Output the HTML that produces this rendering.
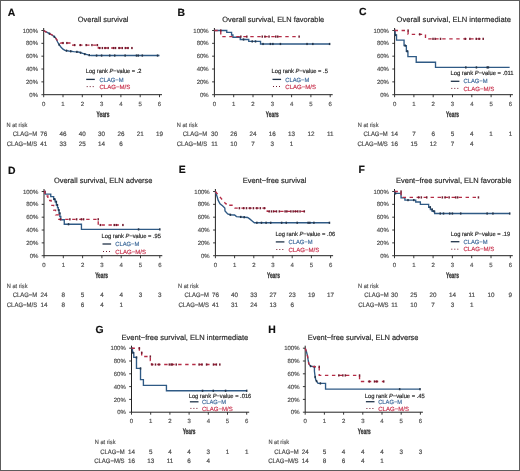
<!DOCTYPE html><html><head><meta charset="utf-8"><style>html,body{margin:0;padding:0;background:#fff}svg{display:block;will-change:transform}text{font-family:"Liberation Sans",sans-serif;text-rendering:geometricPrecision}</style></head><body>
<svg width="520" height="471" viewBox="0 0 520 471">
<rect x="0" y="0" width="520" height="471" fill="#fff"/>
<text x="7.80" y="15.60" font-size="10.4" text-anchor="start" fill="#111" font-weight="bold" stroke="#111" stroke-width="0.18">A</text>
<text x="77.80" y="22.20" font-size="7.6" text-anchor="start" fill="#2a2a2a" font-weight="normal" stroke="#2a2a2a" stroke-width="0.18" textLength="50.7" lengthAdjust="spacingAndGlyphs">Overall survival</text>
<path d="M43.70 28.00V94.70H162.00" fill="none" stroke="#222" stroke-width="1"/>
<path d="M41.40 94.70H43.70" stroke="#222" stroke-width="0.9"/>
<text x="38.00" y="96.85" font-size="6.0" text-anchor="end" fill="#555" font-weight="normal" stroke="#555" stroke-width="0.18">0%</text>
<path d="M41.40 81.86H43.70" stroke="#222" stroke-width="0.9"/>
<text x="38.00" y="84.01" font-size="6.0" text-anchor="end" fill="#555" font-weight="normal" stroke="#555" stroke-width="0.18">20%</text>
<path d="M41.40 69.02H43.70" stroke="#222" stroke-width="0.9"/>
<text x="38.00" y="71.17" font-size="6.0" text-anchor="end" fill="#555" font-weight="normal" stroke="#555" stroke-width="0.18">40%</text>
<path d="M41.40 56.18H43.70" stroke="#222" stroke-width="0.9"/>
<text x="38.00" y="58.33" font-size="6.0" text-anchor="end" fill="#555" font-weight="normal" stroke="#555" stroke-width="0.18">60%</text>
<path d="M41.40 43.34H43.70" stroke="#222" stroke-width="0.9"/>
<text x="38.00" y="45.49" font-size="6.0" text-anchor="end" fill="#555" font-weight="normal" stroke="#555" stroke-width="0.18">80%</text>
<path d="M41.40 30.50H43.70" stroke="#222" stroke-width="0.9"/>
<text x="38.00" y="32.65" font-size="6.0" text-anchor="end" fill="#555" font-weight="normal" stroke="#555" stroke-width="0.18">100%</text>
<path d="M43.70 94.70V97.20" stroke="#222" stroke-width="0.9"/>
<text x="43.70" y="105.90" font-size="6.0" text-anchor="middle" fill="#555" font-weight="normal" stroke="#555" stroke-width="0.18">0</text>
<path d="M63.00 94.70V97.20" stroke="#222" stroke-width="0.9"/>
<text x="63.00" y="105.90" font-size="6.0" text-anchor="middle" fill="#555" font-weight="normal" stroke="#555" stroke-width="0.18">1</text>
<path d="M82.30 94.70V97.20" stroke="#222" stroke-width="0.9"/>
<text x="82.30" y="105.90" font-size="6.0" text-anchor="middle" fill="#555" font-weight="normal" stroke="#555" stroke-width="0.18">2</text>
<path d="M101.60 94.70V97.20" stroke="#222" stroke-width="0.9"/>
<text x="101.60" y="105.90" font-size="6.0" text-anchor="middle" fill="#555" font-weight="normal" stroke="#555" stroke-width="0.18">3</text>
<path d="M120.90 94.70V97.20" stroke="#222" stroke-width="0.9"/>
<text x="120.90" y="105.90" font-size="6.0" text-anchor="middle" fill="#555" font-weight="normal" stroke="#555" stroke-width="0.18">4</text>
<path d="M140.20 94.70V97.20" stroke="#222" stroke-width="0.9"/>
<text x="140.20" y="105.90" font-size="6.0" text-anchor="middle" fill="#555" font-weight="normal" stroke="#555" stroke-width="0.18">5</text>
<path d="M159.50 94.70V97.20" stroke="#222" stroke-width="0.9"/>
<text x="159.50" y="105.90" font-size="6.0" text-anchor="middle" fill="#555" font-weight="normal" stroke="#555" stroke-width="0.18">6</text>
<text x="102.95" y="116.90" font-size="8.1" text-anchor="middle" fill="#333" font-weight="bold" stroke="#333" textLength="12.9" lengthAdjust="spacingAndGlyphs" stroke-width="0.3">Years</text>
<path d="M43.70 30.50 L45.24 31.46 L47.17 32.43 L49.49 33.71 L51.81 34.99 L53.74 36.28 L55.28 37.56 L56.44 39.49 L57.60 42.06 L59.14 44.62 L61.07 47.19 L63.00 49.12 L64.93 50.40 L68.79 51.04 L73.62 51.69 L78.44 52.01 L81.34 52.97 L84.23 53.93 L88.09 54.90 L90.99 55.54 L159.50 55.54" fill="none" stroke="#2f5a85" stroke-width="1.35"/>
<rect x="48.74" y="32.61" width="1.5" height="2.2" fill="#22344a"/>
<rect x="53.57" y="35.66" width="1.5" height="2.2" fill="#22344a"/>
<rect x="58.39" y="43.52" width="1.5" height="2.2" fill="#22344a"/>
<rect x="65.72" y="49.56" width="1.5" height="2.2" fill="#22344a"/>
<rect x="69.97" y="50.20" width="1.5" height="2.2" fill="#22344a"/>
<rect x="76.15" y="50.80" width="1.5" height="2.2" fill="#22344a"/>
<rect x="79.81" y="51.61" width="1.5" height="2.2" fill="#22344a"/>
<rect x="84.06" y="52.98" width="1.5" height="2.2" fill="#22344a"/>
<rect x="88.50" y="54.05" width="1.5" height="2.2" fill="#22344a"/>
<rect x="95.83" y="54.44" width="1.5" height="2.2" fill="#22344a"/>
<rect x="100.85" y="54.44" width="1.5" height="2.2" fill="#22344a"/>
<rect x="108.96" y="54.44" width="1.5" height="2.2" fill="#22344a"/>
<rect x="113.97" y="54.44" width="1.5" height="2.2" fill="#22344a"/>
<rect x="124.40" y="54.44" width="1.5" height="2.2" fill="#22344a"/>
<rect x="135.78" y="54.44" width="1.5" height="2.2" fill="#22344a"/>
<rect x="137.52" y="54.44" width="1.5" height="2.2" fill="#22344a"/>
<rect x="141.57" y="54.44" width="1.5" height="2.2" fill="#22344a"/>
<rect x="156.82" y="54.44" width="1.5" height="2.2" fill="#22344a"/>
<path d="M43.70 30.50 L46.60 32.43 L49.49 33.71 L52.39 34.99 L54.32 36.92 L56.25 38.85 L58.18 41.41 L60.30 43.02 L72.65 43.02 L72.65 45.07 L98.32 45.07 L98.32 48.03 L132.48 48.03" fill="none" stroke="#b52c46" stroke-width="1.35" stroke-dasharray="3.4 3.6"/>
<rect x="62.25" y="41.92" width="1.5" height="2.2" fill="#701a2d"/>
<rect x="66.11" y="41.92" width="1.5" height="2.2" fill="#701a2d"/>
<rect x="73.83" y="43.97" width="1.5" height="2.2" fill="#701a2d"/>
<rect x="79.62" y="43.97" width="1.5" height="2.2" fill="#701a2d"/>
<rect x="85.41" y="43.97" width="1.5" height="2.2" fill="#701a2d"/>
<rect x="91.20" y="43.97" width="1.5" height="2.2" fill="#701a2d"/>
<rect x="96.60" y="43.97" width="1.5" height="2.2" fill="#701a2d"/>
<rect x="98.92" y="46.93" width="1.5" height="2.2" fill="#701a2d"/>
<rect x="101.62" y="46.93" width="1.5" height="2.2" fill="#701a2d"/>
<rect x="104.32" y="46.93" width="1.5" height="2.2" fill="#701a2d"/>
<rect x="107.41" y="46.93" width="1.5" height="2.2" fill="#701a2d"/>
<rect x="112.82" y="46.93" width="1.5" height="2.2" fill="#701a2d"/>
<rect x="114.75" y="46.93" width="1.5" height="2.2" fill="#701a2d"/>
<rect x="118.41" y="46.93" width="1.5" height="2.2" fill="#701a2d"/>
<rect x="121.50" y="46.93" width="1.5" height="2.2" fill="#701a2d"/>
<rect x="124.59" y="46.93" width="1.5" height="2.2" fill="#701a2d"/>
<rect x="127.29" y="46.93" width="1.5" height="2.2" fill="#701a2d"/>
<rect x="131.15" y="46.93" width="1.5" height="2.2" fill="#701a2d"/>
<text x="85.80" y="73.05" font-size="6.0" text-anchor="start" fill="#2a2a2a" font-weight="normal" stroke="#2a2a2a" stroke-width="0.18" textLength="55.7" lengthAdjust="spacingAndGlyphs">Log rank <tspan font-style="italic">P</tspan>−value = .2</text>
<path d="M86.20 79.40h8.6" stroke="#22344a" stroke-width="1.3"/>
<text x="99.50" y="81.55" font-size="6.0" text-anchor="start" fill="#416c9c" font-weight="normal" stroke="#416c9c" stroke-width="0.18" textLength="24.0" lengthAdjust="spacingAndGlyphs">CLAG−M</text>
<rect x="86.70" y="86.10" width="1.0" height="1.0" fill="#701a2d"/>
<rect x="89.70" y="86.10" width="1.0" height="1.0" fill="#701a2d"/>
<rect x="92.70" y="86.10" width="1.0" height="1.0" fill="#701a2d"/>
<text x="99.50" y="88.75" font-size="6.0" text-anchor="start" fill="#c93550" font-weight="normal" stroke="#c93550" stroke-width="0.18" textLength="30.8" lengthAdjust="spacingAndGlyphs">CLAG−M/S</text>
<text x="6.60" y="126.90" font-size="6.1" text-anchor="start" fill="#555" font-weight="normal" stroke="#555" stroke-width="0.18" textLength="20.7" lengthAdjust="spacingAndGlyphs">N at risk</text>
<text x="37.20" y="136.45" font-size="6.4" text-anchor="end" fill="#4a4a4a" font-weight="normal" stroke="#4a4a4a" stroke-width="0.18" textLength="24.4" lengthAdjust="spacingAndGlyphs">CLAG−M</text>
<text x="37.20" y="145.65" font-size="6.4" text-anchor="end" fill="#4a4a4a" font-weight="normal" stroke="#4a4a4a" stroke-width="0.18" textLength="30.4" lengthAdjust="spacingAndGlyphs">CLAG−M/S</text>
<text x="43.70" y="136.45" font-size="6.3" text-anchor="middle" fill="#4a4a4a" font-weight="normal" stroke="#4a4a4a" stroke-width="0.18">76</text>
<text x="63.00" y="136.45" font-size="6.3" text-anchor="middle" fill="#4a4a4a" font-weight="normal" stroke="#4a4a4a" stroke-width="0.18">46</text>
<text x="82.30" y="136.45" font-size="6.3" text-anchor="middle" fill="#4a4a4a" font-weight="normal" stroke="#4a4a4a" stroke-width="0.18">40</text>
<text x="101.60" y="136.45" font-size="6.3" text-anchor="middle" fill="#4a4a4a" font-weight="normal" stroke="#4a4a4a" stroke-width="0.18">30</text>
<text x="120.90" y="136.45" font-size="6.3" text-anchor="middle" fill="#4a4a4a" font-weight="normal" stroke="#4a4a4a" stroke-width="0.18">26</text>
<text x="140.20" y="136.45" font-size="6.3" text-anchor="middle" fill="#4a4a4a" font-weight="normal" stroke="#4a4a4a" stroke-width="0.18">21</text>
<text x="159.50" y="136.45" font-size="6.3" text-anchor="middle" fill="#4a4a4a" font-weight="normal" stroke="#4a4a4a" stroke-width="0.18">19</text>
<text x="43.70" y="145.65" font-size="6.3" text-anchor="middle" fill="#4a4a4a" font-weight="normal" stroke="#4a4a4a" stroke-width="0.18">41</text>
<text x="63.00" y="145.65" font-size="6.3" text-anchor="middle" fill="#4a4a4a" font-weight="normal" stroke="#4a4a4a" stroke-width="0.18">33</text>
<text x="82.30" y="145.65" font-size="6.3" text-anchor="middle" fill="#4a4a4a" font-weight="normal" stroke="#4a4a4a" stroke-width="0.18">25</text>
<text x="101.60" y="145.65" font-size="6.3" text-anchor="middle" fill="#4a4a4a" font-weight="normal" stroke="#4a4a4a" stroke-width="0.18">14</text>
<text x="120.90" y="145.65" font-size="6.3" text-anchor="middle" fill="#4a4a4a" font-weight="normal" stroke="#4a4a4a" stroke-width="0.18">6</text>
<text x="177.60" y="15.50" font-size="10.4" text-anchor="start" fill="#111" font-weight="bold" stroke="#111" stroke-width="0.18">B</text>
<text x="222.30" y="22.20" font-size="7.6" text-anchor="start" fill="#2a2a2a" font-weight="normal" stroke="#2a2a2a" stroke-width="0.18" textLength="101.9" lengthAdjust="spacingAndGlyphs">Overall survival, ELN favorable</text>
<path d="M214.40 28.00V94.70H332.70" fill="none" stroke="#222" stroke-width="1"/>
<path d="M212.10 94.70H214.40" stroke="#222" stroke-width="0.9"/>
<text x="208.70" y="96.85" font-size="6.0" text-anchor="end" fill="#555" font-weight="normal" stroke="#555" stroke-width="0.18">0%</text>
<path d="M212.10 81.86H214.40" stroke="#222" stroke-width="0.9"/>
<text x="208.70" y="84.01" font-size="6.0" text-anchor="end" fill="#555" font-weight="normal" stroke="#555" stroke-width="0.18">20%</text>
<path d="M212.10 69.02H214.40" stroke="#222" stroke-width="0.9"/>
<text x="208.70" y="71.17" font-size="6.0" text-anchor="end" fill="#555" font-weight="normal" stroke="#555" stroke-width="0.18">40%</text>
<path d="M212.10 56.18H214.40" stroke="#222" stroke-width="0.9"/>
<text x="208.70" y="58.33" font-size="6.0" text-anchor="end" fill="#555" font-weight="normal" stroke="#555" stroke-width="0.18">60%</text>
<path d="M212.10 43.34H214.40" stroke="#222" stroke-width="0.9"/>
<text x="208.70" y="45.49" font-size="6.0" text-anchor="end" fill="#555" font-weight="normal" stroke="#555" stroke-width="0.18">80%</text>
<path d="M212.10 30.50H214.40" stroke="#222" stroke-width="0.9"/>
<text x="208.70" y="32.65" font-size="6.0" text-anchor="end" fill="#555" font-weight="normal" stroke="#555" stroke-width="0.18">100%</text>
<path d="M214.40 94.70V97.20" stroke="#222" stroke-width="0.9"/>
<text x="214.40" y="105.90" font-size="6.0" text-anchor="middle" fill="#555" font-weight="normal" stroke="#555" stroke-width="0.18">0</text>
<path d="M233.70 94.70V97.20" stroke="#222" stroke-width="0.9"/>
<text x="233.70" y="105.90" font-size="6.0" text-anchor="middle" fill="#555" font-weight="normal" stroke="#555" stroke-width="0.18">1</text>
<path d="M253.00 94.70V97.20" stroke="#222" stroke-width="0.9"/>
<text x="253.00" y="105.90" font-size="6.0" text-anchor="middle" fill="#555" font-weight="normal" stroke="#555" stroke-width="0.18">2</text>
<path d="M272.30 94.70V97.20" stroke="#222" stroke-width="0.9"/>
<text x="272.30" y="105.90" font-size="6.0" text-anchor="middle" fill="#555" font-weight="normal" stroke="#555" stroke-width="0.18">3</text>
<path d="M291.60 94.70V97.20" stroke="#222" stroke-width="0.9"/>
<text x="291.60" y="105.90" font-size="6.0" text-anchor="middle" fill="#555" font-weight="normal" stroke="#555" stroke-width="0.18">4</text>
<path d="M310.90 94.70V97.20" stroke="#222" stroke-width="0.9"/>
<text x="310.90" y="105.90" font-size="6.0" text-anchor="middle" fill="#555" font-weight="normal" stroke="#555" stroke-width="0.18">5</text>
<path d="M330.20 94.70V97.20" stroke="#222" stroke-width="0.9"/>
<text x="330.20" y="105.90" font-size="6.0" text-anchor="middle" fill="#555" font-weight="normal" stroke="#555" stroke-width="0.18">6</text>
<text x="272.30" y="116.90" font-size="8.1" text-anchor="middle" fill="#333" font-weight="bold" stroke="#333" textLength="12.9" lengthAdjust="spacingAndGlyphs" stroke-width="0.3">Years</text>
<path d="M214.40 30.50 L226.75 30.50 L226.75 32.43 L231.58 32.43 L231.58 34.99 L232.93 34.99 L232.93 37.24 L240.26 37.24 L240.26 39.49 L248.75 39.49 L248.75 41.41 L260.53 41.41 L260.53 43.98 L329.62 43.98" fill="none" stroke="#2f5a85" stroke-width="1.35"/>
<rect x="242.79" y="38.39" width="1.5" height="2.2" fill="#22344a"/>
<rect x="251.48" y="40.31" width="1.5" height="2.2" fill="#22344a"/>
<rect x="254.76" y="40.31" width="1.5" height="2.2" fill="#22344a"/>
<rect x="262.29" y="42.88" width="1.5" height="2.2" fill="#22344a"/>
<rect x="269.62" y="42.88" width="1.5" height="2.2" fill="#22344a"/>
<rect x="272.13" y="42.88" width="1.5" height="2.2" fill="#22344a"/>
<rect x="279.66" y="42.88" width="1.5" height="2.2" fill="#22344a"/>
<rect x="306.29" y="42.88" width="1.5" height="2.2" fill="#22344a"/>
<rect x="312.08" y="42.88" width="1.5" height="2.2" fill="#22344a"/>
<rect x="328.87" y="42.88" width="1.5" height="2.2" fill="#22344a"/>
<path d="M214.40 30.50 L220.77 30.50 L220.77 36.60 L299.13 36.60" fill="none" stroke="#b52c46" stroke-width="1.35" stroke-dasharray="3.4 3.6"/>
<rect x="220.02" y="29.40" width="1.5" height="2.2" fill="#701a2d"/>
<rect x="240.09" y="35.50" width="1.5" height="2.2" fill="#701a2d"/>
<rect x="246.07" y="35.50" width="1.5" height="2.2" fill="#701a2d"/>
<rect x="261.51" y="35.50" width="1.5" height="2.2" fill="#701a2d"/>
<rect x="264.22" y="35.50" width="1.5" height="2.2" fill="#701a2d"/>
<rect x="268.27" y="35.50" width="1.5" height="2.2" fill="#701a2d"/>
<rect x="275.02" y="35.50" width="1.5" height="2.2" fill="#701a2d"/>
<rect x="276.95" y="35.50" width="1.5" height="2.2" fill="#701a2d"/>
<rect x="298.38" y="35.50" width="1.5" height="2.2" fill="#701a2d"/>
<text x="271.60" y="73.05" font-size="6.0" text-anchor="start" fill="#2a2a2a" font-weight="normal" stroke="#2a2a2a" stroke-width="0.18" textLength="56.3" lengthAdjust="spacingAndGlyphs">Log rank <tspan font-style="italic">P</tspan>−value = .5</text>
<path d="M272.50 79.40h8.6" stroke="#22344a" stroke-width="1.3"/>
<text x="285.30" y="81.55" font-size="6.0" text-anchor="start" fill="#416c9c" font-weight="normal" stroke="#416c9c" stroke-width="0.18" textLength="24.0" lengthAdjust="spacingAndGlyphs">CLAG−M</text>
<rect x="273.00" y="86.00" width="1.0" height="1.0" fill="#701a2d"/>
<rect x="276.00" y="86.00" width="1.0" height="1.0" fill="#701a2d"/>
<rect x="279.00" y="86.00" width="1.0" height="1.0" fill="#701a2d"/>
<text x="285.30" y="88.65" font-size="6.0" text-anchor="start" fill="#c93550" font-weight="normal" stroke="#c93550" stroke-width="0.18" textLength="30.8" lengthAdjust="spacingAndGlyphs">CLAG−M/S</text>
<text x="176.80" y="126.90" font-size="6.1" text-anchor="start" fill="#555" font-weight="normal" stroke="#555" stroke-width="0.18" textLength="20.7" lengthAdjust="spacingAndGlyphs">N at risk</text>
<text x="207.20" y="136.45" font-size="6.4" text-anchor="end" fill="#4a4a4a" font-weight="normal" stroke="#4a4a4a" stroke-width="0.18" textLength="24.4" lengthAdjust="spacingAndGlyphs">CLAG−M</text>
<text x="207.20" y="145.65" font-size="6.4" text-anchor="end" fill="#4a4a4a" font-weight="normal" stroke="#4a4a4a" stroke-width="0.18" textLength="30.4" lengthAdjust="spacingAndGlyphs">CLAG−M/S</text>
<text x="214.40" y="136.45" font-size="6.3" text-anchor="middle" fill="#4a4a4a" font-weight="normal" stroke="#4a4a4a" stroke-width="0.18">30</text>
<text x="233.70" y="136.45" font-size="6.3" text-anchor="middle" fill="#4a4a4a" font-weight="normal" stroke="#4a4a4a" stroke-width="0.18">26</text>
<text x="253.00" y="136.45" font-size="6.3" text-anchor="middle" fill="#4a4a4a" font-weight="normal" stroke="#4a4a4a" stroke-width="0.18">24</text>
<text x="272.30" y="136.45" font-size="6.3" text-anchor="middle" fill="#4a4a4a" font-weight="normal" stroke="#4a4a4a" stroke-width="0.18">16</text>
<text x="291.60" y="136.45" font-size="6.3" text-anchor="middle" fill="#4a4a4a" font-weight="normal" stroke="#4a4a4a" stroke-width="0.18">13</text>
<text x="310.90" y="136.45" font-size="6.3" text-anchor="middle" fill="#4a4a4a" font-weight="normal" stroke="#4a4a4a" stroke-width="0.18">12</text>
<text x="330.20" y="136.45" font-size="6.3" text-anchor="middle" fill="#4a4a4a" font-weight="normal" stroke="#4a4a4a" stroke-width="0.18">11</text>
<text x="214.40" y="145.65" font-size="6.3" text-anchor="middle" fill="#4a4a4a" font-weight="normal" stroke="#4a4a4a" stroke-width="0.18">11</text>
<text x="233.70" y="145.65" font-size="6.3" text-anchor="middle" fill="#4a4a4a" font-weight="normal" stroke="#4a4a4a" stroke-width="0.18">10</text>
<text x="253.00" y="145.65" font-size="6.3" text-anchor="middle" fill="#4a4a4a" font-weight="normal" stroke="#4a4a4a" stroke-width="0.18">7</text>
<text x="272.30" y="145.65" font-size="6.3" text-anchor="middle" fill="#4a4a4a" font-weight="normal" stroke="#4a4a4a" stroke-width="0.18">3</text>
<text x="291.60" y="145.65" font-size="6.3" text-anchor="middle" fill="#4a4a4a" font-weight="normal" stroke="#4a4a4a" stroke-width="0.18">1</text>
<text x="359.10" y="15.00" font-size="10.4" text-anchor="start" fill="#111" font-weight="bold" stroke="#111" stroke-width="0.18">C</text>
<text x="396.50" y="22.20" font-size="7.6" text-anchor="start" fill="#2a2a2a" font-weight="normal" stroke="#2a2a2a" stroke-width="0.18" textLength="114.5" lengthAdjust="spacingAndGlyphs">Overall survival, ELN intermediate</text>
<path d="M394.60 28.00V94.70H512.90" fill="none" stroke="#222" stroke-width="1"/>
<path d="M392.30 94.70H394.60" stroke="#222" stroke-width="0.9"/>
<text x="388.90" y="96.85" font-size="6.0" text-anchor="end" fill="#555" font-weight="normal" stroke="#555" stroke-width="0.18">0%</text>
<path d="M392.30 81.86H394.60" stroke="#222" stroke-width="0.9"/>
<text x="388.90" y="84.01" font-size="6.0" text-anchor="end" fill="#555" font-weight="normal" stroke="#555" stroke-width="0.18">20%</text>
<path d="M392.30 69.02H394.60" stroke="#222" stroke-width="0.9"/>
<text x="388.90" y="71.17" font-size="6.0" text-anchor="end" fill="#555" font-weight="normal" stroke="#555" stroke-width="0.18">40%</text>
<path d="M392.30 56.18H394.60" stroke="#222" stroke-width="0.9"/>
<text x="388.90" y="58.33" font-size="6.0" text-anchor="end" fill="#555" font-weight="normal" stroke="#555" stroke-width="0.18">60%</text>
<path d="M392.30 43.34H394.60" stroke="#222" stroke-width="0.9"/>
<text x="388.90" y="45.49" font-size="6.0" text-anchor="end" fill="#555" font-weight="normal" stroke="#555" stroke-width="0.18">80%</text>
<path d="M392.30 30.50H394.60" stroke="#222" stroke-width="0.9"/>
<text x="388.90" y="32.65" font-size="6.0" text-anchor="end" fill="#555" font-weight="normal" stroke="#555" stroke-width="0.18">100%</text>
<path d="M394.60 94.70V97.20" stroke="#222" stroke-width="0.9"/>
<text x="394.60" y="105.90" font-size="6.0" text-anchor="middle" fill="#555" font-weight="normal" stroke="#555" stroke-width="0.18">0</text>
<path d="M413.90 94.70V97.20" stroke="#222" stroke-width="0.9"/>
<text x="413.90" y="105.90" font-size="6.0" text-anchor="middle" fill="#555" font-weight="normal" stroke="#555" stroke-width="0.18">1</text>
<path d="M433.20 94.70V97.20" stroke="#222" stroke-width="0.9"/>
<text x="433.20" y="105.90" font-size="6.0" text-anchor="middle" fill="#555" font-weight="normal" stroke="#555" stroke-width="0.18">2</text>
<path d="M452.50 94.70V97.20" stroke="#222" stroke-width="0.9"/>
<text x="452.50" y="105.90" font-size="6.0" text-anchor="middle" fill="#555" font-weight="normal" stroke="#555" stroke-width="0.18">3</text>
<path d="M471.80 94.70V97.20" stroke="#222" stroke-width="0.9"/>
<text x="471.80" y="105.90" font-size="6.0" text-anchor="middle" fill="#555" font-weight="normal" stroke="#555" stroke-width="0.18">4</text>
<path d="M491.10 94.70V97.20" stroke="#222" stroke-width="0.9"/>
<text x="491.10" y="105.90" font-size="6.0" text-anchor="middle" fill="#555" font-weight="normal" stroke="#555" stroke-width="0.18">5</text>
<path d="M510.40 94.70V97.20" stroke="#222" stroke-width="0.9"/>
<text x="510.40" y="105.90" font-size="6.0" text-anchor="middle" fill="#555" font-weight="normal" stroke="#555" stroke-width="0.18">6</text>
<text x="452.50" y="116.90" font-size="8.1" text-anchor="middle" fill="#333" font-weight="bold" stroke="#333" textLength="12.9" lengthAdjust="spacingAndGlyphs" stroke-width="0.3">Years</text>
<path d="M394.60 30.50 L395.18 30.50 L395.18 34.99 L396.53 34.99 L396.53 40.13 L404.06 40.13 L404.06 45.59 L406.37 45.59 L406.37 51.24 L407.92 51.24 L407.92 56.69 L416.22 56.69 L416.22 62.21 L435.52 62.21 L435.52 67.42 L509.63 67.42" fill="none" stroke="#2f5a85" stroke-width="1.35"/>
<rect x="394.81" y="33.89" width="1.5" height="2.2" fill="#22344a"/>
<rect x="404.47" y="44.49" width="1.5" height="2.2" fill="#22344a"/>
<rect x="406.40" y="50.14" width="1.5" height="2.2" fill="#22344a"/>
<rect x="465.07" y="66.32" width="1.5" height="2.2" fill="#22344a"/>
<rect x="475.68" y="66.32" width="1.5" height="2.2" fill="#22344a"/>
<rect x="486.49" y="66.32" width="1.5" height="2.2" fill="#22344a"/>
<rect x="487.65" y="66.32" width="1.5" height="2.2" fill="#22344a"/>
<path d="M394.60 30.50 L408.11 30.50 L408.11 34.35 L425.48 34.35 L425.48 38.85 L483.19 38.85" fill="none" stroke="#b52c46" stroke-width="1.35" stroke-dasharray="3.4 3.6"/>
<rect x="407.36" y="29.40" width="1.5" height="2.2" fill="#701a2d"/>
<rect x="418.94" y="33.25" width="1.5" height="2.2" fill="#701a2d"/>
<rect x="432.26" y="37.75" width="1.5" height="2.2" fill="#701a2d"/>
<rect x="434.38" y="37.75" width="1.5" height="2.2" fill="#701a2d"/>
<rect x="439.78" y="37.75" width="1.5" height="2.2" fill="#701a2d"/>
<rect x="464.49" y="37.75" width="1.5" height="2.2" fill="#701a2d"/>
<rect x="469.12" y="37.75" width="1.5" height="2.2" fill="#701a2d"/>
<rect x="475.49" y="37.75" width="1.5" height="2.2" fill="#701a2d"/>
<rect x="478.38" y="37.75" width="1.5" height="2.2" fill="#701a2d"/>
<rect x="482.44" y="37.75" width="1.5" height="2.2" fill="#701a2d"/>
<text x="450.40" y="75.35" font-size="6.0" text-anchor="start" fill="#2a2a2a" font-weight="normal" stroke="#2a2a2a" stroke-width="0.18" textLength="63.2" lengthAdjust="spacingAndGlyphs">Log rank <tspan font-style="italic">P</tspan>−value = .011</text>
<path d="M450.80 81.30h8.6" stroke="#22344a" stroke-width="1.3"/>
<text x="463.50" y="83.45" font-size="6.0" text-anchor="start" fill="#416c9c" font-weight="normal" stroke="#416c9c" stroke-width="0.18" textLength="24.0" lengthAdjust="spacingAndGlyphs">CLAG−M</text>
<rect x="451.30" y="87.90" width="1.0" height="1.0" fill="#701a2d"/>
<rect x="454.30" y="87.90" width="1.0" height="1.0" fill="#701a2d"/>
<rect x="457.30" y="87.90" width="1.0" height="1.0" fill="#701a2d"/>
<text x="463.50" y="90.55" font-size="6.0" text-anchor="start" fill="#c93550" font-weight="normal" stroke="#c93550" stroke-width="0.18" textLength="30.8" lengthAdjust="spacingAndGlyphs">CLAG−M/S</text>
<text x="357.80" y="126.90" font-size="6.1" text-anchor="start" fill="#555" font-weight="normal" stroke="#555" stroke-width="0.18" textLength="20.7" lengthAdjust="spacingAndGlyphs">N at risk</text>
<text x="387.80" y="136.45" font-size="6.4" text-anchor="end" fill="#4a4a4a" font-weight="normal" stroke="#4a4a4a" stroke-width="0.18" textLength="24.4" lengthAdjust="spacingAndGlyphs">CLAG−M</text>
<text x="387.80" y="145.65" font-size="6.4" text-anchor="end" fill="#4a4a4a" font-weight="normal" stroke="#4a4a4a" stroke-width="0.18" textLength="30.4" lengthAdjust="spacingAndGlyphs">CLAG−M/S</text>
<text x="394.60" y="136.45" font-size="6.3" text-anchor="middle" fill="#4a4a4a" font-weight="normal" stroke="#4a4a4a" stroke-width="0.18">14</text>
<text x="413.90" y="136.45" font-size="6.3" text-anchor="middle" fill="#4a4a4a" font-weight="normal" stroke="#4a4a4a" stroke-width="0.18">7</text>
<text x="433.20" y="136.45" font-size="6.3" text-anchor="middle" fill="#4a4a4a" font-weight="normal" stroke="#4a4a4a" stroke-width="0.18">6</text>
<text x="452.50" y="136.45" font-size="6.3" text-anchor="middle" fill="#4a4a4a" font-weight="normal" stroke="#4a4a4a" stroke-width="0.18">5</text>
<text x="471.80" y="136.45" font-size="6.3" text-anchor="middle" fill="#4a4a4a" font-weight="normal" stroke="#4a4a4a" stroke-width="0.18">4</text>
<text x="491.10" y="136.45" font-size="6.3" text-anchor="middle" fill="#4a4a4a" font-weight="normal" stroke="#4a4a4a" stroke-width="0.18">1</text>
<text x="510.40" y="136.45" font-size="6.3" text-anchor="middle" fill="#4a4a4a" font-weight="normal" stroke="#4a4a4a" stroke-width="0.18">1</text>
<text x="394.60" y="145.65" font-size="6.3" text-anchor="middle" fill="#4a4a4a" font-weight="normal" stroke="#4a4a4a" stroke-width="0.18">16</text>
<text x="413.90" y="145.65" font-size="6.3" text-anchor="middle" fill="#4a4a4a" font-weight="normal" stroke="#4a4a4a" stroke-width="0.18">15</text>
<text x="433.20" y="145.65" font-size="6.3" text-anchor="middle" fill="#4a4a4a" font-weight="normal" stroke="#4a4a4a" stroke-width="0.18">12</text>
<text x="452.50" y="145.65" font-size="6.3" text-anchor="middle" fill="#4a4a4a" font-weight="normal" stroke="#4a4a4a" stroke-width="0.18">7</text>
<text x="471.80" y="145.65" font-size="6.3" text-anchor="middle" fill="#4a4a4a" font-weight="normal" stroke="#4a4a4a" stroke-width="0.18">4</text>
<text x="8.10" y="173.50" font-size="10.4" text-anchor="start" fill="#111" font-weight="bold" stroke="#111" stroke-width="0.18">D</text>
<text x="53.90" y="183.30" font-size="7.6" text-anchor="start" fill="#2a2a2a" font-weight="normal" stroke="#2a2a2a" stroke-width="0.18" textLength="98.6" lengthAdjust="spacingAndGlyphs">Overall survival, ELN adverse</text>
<path d="M44.00 189.00V255.70H162.30" fill="none" stroke="#222" stroke-width="1"/>
<path d="M41.70 255.70H44.00" stroke="#222" stroke-width="0.9"/>
<text x="38.30" y="257.85" font-size="6.0" text-anchor="end" fill="#555" font-weight="normal" stroke="#555" stroke-width="0.18">0%</text>
<path d="M41.70 242.86H44.00" stroke="#222" stroke-width="0.9"/>
<text x="38.30" y="245.01" font-size="6.0" text-anchor="end" fill="#555" font-weight="normal" stroke="#555" stroke-width="0.18">20%</text>
<path d="M41.70 230.02H44.00" stroke="#222" stroke-width="0.9"/>
<text x="38.30" y="232.17" font-size="6.0" text-anchor="end" fill="#555" font-weight="normal" stroke="#555" stroke-width="0.18">40%</text>
<path d="M41.70 217.18H44.00" stroke="#222" stroke-width="0.9"/>
<text x="38.30" y="219.33" font-size="6.0" text-anchor="end" fill="#555" font-weight="normal" stroke="#555" stroke-width="0.18">60%</text>
<path d="M41.70 204.34H44.00" stroke="#222" stroke-width="0.9"/>
<text x="38.30" y="206.49" font-size="6.0" text-anchor="end" fill="#555" font-weight="normal" stroke="#555" stroke-width="0.18">80%</text>
<path d="M41.70 191.50H44.00" stroke="#222" stroke-width="0.9"/>
<text x="38.30" y="193.65" font-size="6.0" text-anchor="end" fill="#555" font-weight="normal" stroke="#555" stroke-width="0.18">100%</text>
<path d="M44.00 255.70V258.20" stroke="#222" stroke-width="0.9"/>
<text x="44.00" y="266.90" font-size="6.0" text-anchor="middle" fill="#555" font-weight="normal" stroke="#555" stroke-width="0.18">0</text>
<path d="M63.30 255.70V258.20" stroke="#222" stroke-width="0.9"/>
<text x="63.30" y="266.90" font-size="6.0" text-anchor="middle" fill="#555" font-weight="normal" stroke="#555" stroke-width="0.18">1</text>
<path d="M82.60 255.70V258.20" stroke="#222" stroke-width="0.9"/>
<text x="82.60" y="266.90" font-size="6.0" text-anchor="middle" fill="#555" font-weight="normal" stroke="#555" stroke-width="0.18">2</text>
<path d="M101.90 255.70V258.20" stroke="#222" stroke-width="0.9"/>
<text x="101.90" y="266.90" font-size="6.0" text-anchor="middle" fill="#555" font-weight="normal" stroke="#555" stroke-width="0.18">3</text>
<path d="M121.20 255.70V258.20" stroke="#222" stroke-width="0.9"/>
<text x="121.20" y="266.90" font-size="6.0" text-anchor="middle" fill="#555" font-weight="normal" stroke="#555" stroke-width="0.18">4</text>
<path d="M140.50 255.70V258.20" stroke="#222" stroke-width="0.9"/>
<text x="140.50" y="266.90" font-size="6.0" text-anchor="middle" fill="#555" font-weight="normal" stroke="#555" stroke-width="0.18">5</text>
<path d="M159.80 255.70V258.20" stroke="#222" stroke-width="0.9"/>
<text x="159.80" y="266.90" font-size="6.0" text-anchor="middle" fill="#555" font-weight="normal" stroke="#555" stroke-width="0.18">6</text>
<text x="101.60" y="277.90" font-size="8.1" text-anchor="middle" fill="#333" font-weight="bold" stroke="#333" textLength="12.9" lengthAdjust="spacingAndGlyphs" stroke-width="0.3">Years</text>
<path d="M44.00 191.50 L45.35 191.50 L45.35 194.07 L50.76 194.07 L50.76 196.64 L53.65 196.64 L53.65 199.20 L55.19 199.20 L55.19 201.77 L56.35 201.77 L56.35 204.98 L57.51 204.98 L57.51 207.55 L58.28 207.55 L58.28 210.12 L59.05 210.12 L59.05 213.33 L59.83 213.33 L59.83 216.54 L60.79 216.54 L60.79 219.75 L64.27 219.75 L64.27 224.24 L81.44 224.24 L81.44 229.38 L159.80 229.38" fill="none" stroke="#2f5a85" stroke-width="1.35"/>
<rect x="53.67" y="198.10" width="1.5" height="2.2" fill="#22344a"/>
<rect x="55.60" y="200.67" width="1.5" height="2.2" fill="#22344a"/>
<rect x="56.57" y="203.88" width="1.5" height="2.2" fill="#22344a"/>
<rect x="58.11" y="209.02" width="1.5" height="2.2" fill="#22344a"/>
<rect x="59.08" y="212.23" width="1.5" height="2.2" fill="#22344a"/>
<rect x="67.76" y="223.14" width="1.5" height="2.2" fill="#22344a"/>
<rect x="137.82" y="228.28" width="1.5" height="2.2" fill="#22344a"/>
<rect x="159.05" y="228.28" width="1.5" height="2.2" fill="#22344a"/>
<path d="M44.00 191.50 L44.97 191.50 L44.97 195.99 L47.86 195.99 L47.86 200.49 L51.14 200.49 L51.14 205.30 L53.65 205.30 L53.65 210.12 L55.58 210.12 L55.58 214.93 L58.86 214.93 L58.86 219.30 L98.23 219.30 L98.23 225.01 L122.94 225.01" fill="none" stroke="#b52c46" stroke-width="1.35" stroke-dasharray="3.4 3.6"/>
<rect x="59.66" y="218.20" width="1.5" height="2.2" fill="#701a2d"/>
<rect x="69.11" y="218.20" width="1.5" height="2.2" fill="#701a2d"/>
<rect x="75.87" y="218.20" width="1.5" height="2.2" fill="#701a2d"/>
<rect x="80.69" y="218.20" width="1.5" height="2.2" fill="#701a2d"/>
<rect x="82.81" y="218.20" width="1.5" height="2.2" fill="#701a2d"/>
<rect x="97.48" y="218.20" width="1.5" height="2.2" fill="#701a2d"/>
<rect x="99.61" y="223.91" width="1.5" height="2.2" fill="#701a2d"/>
<rect x="113.50" y="223.91" width="1.5" height="2.2" fill="#701a2d"/>
<rect x="115.62" y="223.91" width="1.5" height="2.2" fill="#701a2d"/>
<rect x="122.19" y="223.91" width="1.5" height="2.2" fill="#701a2d"/>
<text x="101.60" y="237.85" font-size="6.0" text-anchor="start" fill="#2a2a2a" font-weight="normal" stroke="#2a2a2a" stroke-width="0.18" textLength="59.4" lengthAdjust="spacingAndGlyphs">Log rank <tspan font-style="italic">P</tspan>−value = .95</text>
<path d="M102.50 244.00h8.6" stroke="#22344a" stroke-width="1.3"/>
<text x="115.30" y="246.15" font-size="6.0" text-anchor="start" fill="#416c9c" font-weight="normal" stroke="#416c9c" stroke-width="0.18" textLength="24.0" lengthAdjust="spacingAndGlyphs">CLAG−M</text>
<rect x="103.00" y="251.00" width="1.0" height="1.0" fill="#701a2d"/>
<rect x="106.00" y="251.00" width="1.0" height="1.0" fill="#701a2d"/>
<rect x="109.00" y="251.00" width="1.0" height="1.0" fill="#701a2d"/>
<text x="115.30" y="253.65" font-size="6.0" text-anchor="start" fill="#c93550" font-weight="normal" stroke="#c93550" stroke-width="0.18" textLength="30.8" lengthAdjust="spacingAndGlyphs">CLAG−M/S</text>
<text x="6.80" y="287.90" font-size="6.1" text-anchor="start" fill="#555" font-weight="normal" stroke="#555" stroke-width="0.18" textLength="20.7" lengthAdjust="spacingAndGlyphs">N at risk</text>
<text x="37.20" y="297.45" font-size="6.4" text-anchor="end" fill="#4a4a4a" font-weight="normal" stroke="#4a4a4a" stroke-width="0.18" textLength="24.4" lengthAdjust="spacingAndGlyphs">CLAG−M</text>
<text x="37.20" y="306.65" font-size="6.4" text-anchor="end" fill="#4a4a4a" font-weight="normal" stroke="#4a4a4a" stroke-width="0.18" textLength="30.4" lengthAdjust="spacingAndGlyphs">CLAG−M/S</text>
<text x="44.00" y="297.45" font-size="6.3" text-anchor="middle" fill="#4a4a4a" font-weight="normal" stroke="#4a4a4a" stroke-width="0.18">24</text>
<text x="63.30" y="297.45" font-size="6.3" text-anchor="middle" fill="#4a4a4a" font-weight="normal" stroke="#4a4a4a" stroke-width="0.18">8</text>
<text x="82.60" y="297.45" font-size="6.3" text-anchor="middle" fill="#4a4a4a" font-weight="normal" stroke="#4a4a4a" stroke-width="0.18">5</text>
<text x="101.90" y="297.45" font-size="6.3" text-anchor="middle" fill="#4a4a4a" font-weight="normal" stroke="#4a4a4a" stroke-width="0.18">4</text>
<text x="121.20" y="297.45" font-size="6.3" text-anchor="middle" fill="#4a4a4a" font-weight="normal" stroke="#4a4a4a" stroke-width="0.18">4</text>
<text x="140.50" y="297.45" font-size="6.3" text-anchor="middle" fill="#4a4a4a" font-weight="normal" stroke="#4a4a4a" stroke-width="0.18">3</text>
<text x="159.80" y="297.45" font-size="6.3" text-anchor="middle" fill="#4a4a4a" font-weight="normal" stroke="#4a4a4a" stroke-width="0.18">3</text>
<text x="44.00" y="306.65" font-size="6.3" text-anchor="middle" fill="#4a4a4a" font-weight="normal" stroke="#4a4a4a" stroke-width="0.18">14</text>
<text x="63.30" y="306.65" font-size="6.3" text-anchor="middle" fill="#4a4a4a" font-weight="normal" stroke="#4a4a4a" stroke-width="0.18">8</text>
<text x="82.60" y="306.65" font-size="6.3" text-anchor="middle" fill="#4a4a4a" font-weight="normal" stroke="#4a4a4a" stroke-width="0.18">6</text>
<text x="101.90" y="306.65" font-size="6.3" text-anchor="middle" fill="#4a4a4a" font-weight="normal" stroke="#4a4a4a" stroke-width="0.18">4</text>
<text x="121.20" y="306.65" font-size="6.3" text-anchor="middle" fill="#4a4a4a" font-weight="normal" stroke="#4a4a4a" stroke-width="0.18">1</text>
<text x="178.80" y="173.30" font-size="10.4" text-anchor="start" fill="#111" font-weight="bold" stroke="#111" stroke-width="0.18">E</text>
<text x="242.70" y="183.30" font-size="7.6" text-anchor="start" fill="#2a2a2a" font-weight="normal" stroke="#2a2a2a" stroke-width="0.18" textLength="63.7" lengthAdjust="spacingAndGlyphs">Event−free survival</text>
<path d="M215.40 189.00V255.70H333.10" fill="none" stroke="#222" stroke-width="1"/>
<path d="M213.10 255.70H215.40" stroke="#222" stroke-width="0.9"/>
<text x="209.70" y="257.85" font-size="6.0" text-anchor="end" fill="#555" font-weight="normal" stroke="#555" stroke-width="0.18">0%</text>
<path d="M213.10 242.86H215.40" stroke="#222" stroke-width="0.9"/>
<text x="209.70" y="245.01" font-size="6.0" text-anchor="end" fill="#555" font-weight="normal" stroke="#555" stroke-width="0.18">20%</text>
<path d="M213.10 230.02H215.40" stroke="#222" stroke-width="0.9"/>
<text x="209.70" y="232.17" font-size="6.0" text-anchor="end" fill="#555" font-weight="normal" stroke="#555" stroke-width="0.18">40%</text>
<path d="M213.10 217.18H215.40" stroke="#222" stroke-width="0.9"/>
<text x="209.70" y="219.33" font-size="6.0" text-anchor="end" fill="#555" font-weight="normal" stroke="#555" stroke-width="0.18">60%</text>
<path d="M213.10 204.34H215.40" stroke="#222" stroke-width="0.9"/>
<text x="209.70" y="206.49" font-size="6.0" text-anchor="end" fill="#555" font-weight="normal" stroke="#555" stroke-width="0.18">80%</text>
<path d="M213.10 191.50H215.40" stroke="#222" stroke-width="0.9"/>
<text x="209.70" y="193.65" font-size="6.0" text-anchor="end" fill="#555" font-weight="normal" stroke="#555" stroke-width="0.18">100%</text>
<path d="M215.40 255.70V258.20" stroke="#222" stroke-width="0.9"/>
<text x="215.40" y="266.90" font-size="6.0" text-anchor="middle" fill="#555" font-weight="normal" stroke="#555" stroke-width="0.18">0</text>
<path d="M234.60 255.70V258.20" stroke="#222" stroke-width="0.9"/>
<text x="234.60" y="266.90" font-size="6.0" text-anchor="middle" fill="#555" font-weight="normal" stroke="#555" stroke-width="0.18">1</text>
<path d="M253.80 255.70V258.20" stroke="#222" stroke-width="0.9"/>
<text x="253.80" y="266.90" font-size="6.0" text-anchor="middle" fill="#555" font-weight="normal" stroke="#555" stroke-width="0.18">2</text>
<path d="M273.00 255.70V258.20" stroke="#222" stroke-width="0.9"/>
<text x="273.00" y="266.90" font-size="6.0" text-anchor="middle" fill="#555" font-weight="normal" stroke="#555" stroke-width="0.18">3</text>
<path d="M292.20 255.70V258.20" stroke="#222" stroke-width="0.9"/>
<text x="292.20" y="266.90" font-size="6.0" text-anchor="middle" fill="#555" font-weight="normal" stroke="#555" stroke-width="0.18">4</text>
<path d="M311.40 255.70V258.20" stroke="#222" stroke-width="0.9"/>
<text x="311.40" y="266.90" font-size="6.0" text-anchor="middle" fill="#555" font-weight="normal" stroke="#555" stroke-width="0.18">5</text>
<path d="M330.60 255.70V258.20" stroke="#222" stroke-width="0.9"/>
<text x="330.60" y="266.90" font-size="6.0" text-anchor="middle" fill="#555" font-weight="normal" stroke="#555" stroke-width="0.18">6</text>
<text x="273.40" y="277.90" font-size="8.1" text-anchor="middle" fill="#333" font-weight="bold" stroke="#333" textLength="12.9" lengthAdjust="spacingAndGlyphs" stroke-width="0.3">Years</text>
<path d="M215.40 191.50 L216.17 194.07 L217.13 196.64 L218.09 200.17 L220.01 203.89 L222.50 205.82 L224.81 208.00 L225.00 210.89 L227.69 213.84 L230.18 214.74 L234.60 215.00 L236.52 216.60 L247.66 217.50 L249.96 219.11 L251.88 220.71 L254.38 222.77 L329.45 222.77" fill="none" stroke="#2f5a85" stroke-width="1.35"/>
<rect x="229.63" y="213.65" width="1.5" height="2.2" fill="#22344a"/>
<rect x="239.99" y="215.84" width="1.5" height="2.2" fill="#22344a"/>
<rect x="243.45" y="216.12" width="1.5" height="2.2" fill="#22344a"/>
<rect x="256.12" y="221.67" width="1.5" height="2.2" fill="#22344a"/>
<rect x="260.73" y="221.67" width="1.5" height="2.2" fill="#22344a"/>
<rect x="265.34" y="221.67" width="1.5" height="2.2" fill="#22344a"/>
<rect x="269.95" y="221.67" width="1.5" height="2.2" fill="#22344a"/>
<rect x="280.89" y="221.67" width="1.5" height="2.2" fill="#22344a"/>
<rect x="285.50" y="221.67" width="1.5" height="2.2" fill="#22344a"/>
<rect x="296.44" y="221.67" width="1.5" height="2.2" fill="#22344a"/>
<rect x="307.39" y="221.67" width="1.5" height="2.2" fill="#22344a"/>
<rect x="309.11" y="221.67" width="1.5" height="2.2" fill="#22344a"/>
<rect x="313.15" y="221.67" width="1.5" height="2.2" fill="#22344a"/>
<rect x="328.70" y="221.67" width="1.5" height="2.2" fill="#22344a"/>
<path d="M215.40 191.50 L225.77 203.89 L227.30 203.89 L227.30 205.24 L233.64 205.24 L234.98 208.19 L267.24 208.19 L267.24 211.40 L304.68 211.40" fill="none" stroke="#b52c46" stroke-width="1.35" stroke-dasharray="3.4 3.6"/>
<rect x="238.65" y="207.09" width="1.5" height="2.2" fill="#701a2d"/>
<rect x="242.87" y="207.09" width="1.5" height="2.2" fill="#701a2d"/>
<rect x="245.75" y="207.09" width="1.5" height="2.2" fill="#701a2d"/>
<rect x="249.21" y="207.09" width="1.5" height="2.2" fill="#701a2d"/>
<rect x="252.67" y="207.09" width="1.5" height="2.2" fill="#701a2d"/>
<rect x="256.12" y="207.09" width="1.5" height="2.2" fill="#701a2d"/>
<rect x="259.58" y="207.09" width="1.5" height="2.2" fill="#701a2d"/>
<rect x="263.61" y="207.09" width="1.5" height="2.2" fill="#701a2d"/>
<rect x="268.41" y="210.30" width="1.5" height="2.2" fill="#701a2d"/>
<rect x="270.71" y="210.30" width="1.5" height="2.2" fill="#701a2d"/>
<rect x="272.83" y="210.30" width="1.5" height="2.2" fill="#701a2d"/>
<rect x="275.71" y="210.30" width="1.5" height="2.2" fill="#701a2d"/>
<rect x="278.59" y="210.30" width="1.5" height="2.2" fill="#701a2d"/>
<rect x="284.35" y="210.30" width="1.5" height="2.2" fill="#701a2d"/>
<rect x="286.07" y="210.30" width="1.5" height="2.2" fill="#701a2d"/>
<rect x="290.11" y="210.30" width="1.5" height="2.2" fill="#701a2d"/>
<rect x="292.41" y="210.30" width="1.5" height="2.2" fill="#701a2d"/>
<rect x="294.71" y="210.30" width="1.5" height="2.2" fill="#701a2d"/>
<rect x="297.02" y="210.30" width="1.5" height="2.2" fill="#701a2d"/>
<rect x="299.32" y="210.30" width="1.5" height="2.2" fill="#701a2d"/>
<rect x="303.55" y="210.30" width="1.5" height="2.2" fill="#701a2d"/>
<text x="275.40" y="236.05" font-size="6.0" text-anchor="start" fill="#2a2a2a" font-weight="normal" stroke="#2a2a2a" stroke-width="0.18" textLength="59.7" lengthAdjust="spacingAndGlyphs">Log rank <tspan font-style="italic">P</tspan>−value = .06</text>
<path d="M275.80 241.90h8.6" stroke="#22344a" stroke-width="1.3"/>
<text x="288.50" y="244.05" font-size="6.0" text-anchor="start" fill="#416c9c" font-weight="normal" stroke="#416c9c" stroke-width="0.18" textLength="24.0" lengthAdjust="spacingAndGlyphs">CLAG−M</text>
<rect x="276.30" y="249.00" width="1.0" height="1.0" fill="#701a2d"/>
<rect x="279.30" y="249.00" width="1.0" height="1.0" fill="#701a2d"/>
<rect x="282.30" y="249.00" width="1.0" height="1.0" fill="#701a2d"/>
<text x="288.50" y="251.65" font-size="6.0" text-anchor="start" fill="#c93550" font-weight="normal" stroke="#c93550" stroke-width="0.18" textLength="30.8" lengthAdjust="spacingAndGlyphs">CLAG−M/S</text>
<text x="178.00" y="287.90" font-size="6.1" text-anchor="start" fill="#555" font-weight="normal" stroke="#555" stroke-width="0.18" textLength="20.7" lengthAdjust="spacingAndGlyphs">N at risk</text>
<text x="208.90" y="297.45" font-size="6.4" text-anchor="end" fill="#4a4a4a" font-weight="normal" stroke="#4a4a4a" stroke-width="0.18" textLength="24.4" lengthAdjust="spacingAndGlyphs">CLAG−M</text>
<text x="208.90" y="306.65" font-size="6.4" text-anchor="end" fill="#4a4a4a" font-weight="normal" stroke="#4a4a4a" stroke-width="0.18" textLength="30.4" lengthAdjust="spacingAndGlyphs">CLAG−M/S</text>
<text x="215.40" y="297.45" font-size="6.3" text-anchor="middle" fill="#4a4a4a" font-weight="normal" stroke="#4a4a4a" stroke-width="0.18">76</text>
<text x="234.60" y="297.45" font-size="6.3" text-anchor="middle" fill="#4a4a4a" font-weight="normal" stroke="#4a4a4a" stroke-width="0.18">40</text>
<text x="253.80" y="297.45" font-size="6.3" text-anchor="middle" fill="#4a4a4a" font-weight="normal" stroke="#4a4a4a" stroke-width="0.18">33</text>
<text x="273.00" y="297.45" font-size="6.3" text-anchor="middle" fill="#4a4a4a" font-weight="normal" stroke="#4a4a4a" stroke-width="0.18">27</text>
<text x="292.20" y="297.45" font-size="6.3" text-anchor="middle" fill="#4a4a4a" font-weight="normal" stroke="#4a4a4a" stroke-width="0.18">23</text>
<text x="311.40" y="297.45" font-size="6.3" text-anchor="middle" fill="#4a4a4a" font-weight="normal" stroke="#4a4a4a" stroke-width="0.18">19</text>
<text x="330.60" y="297.45" font-size="6.3" text-anchor="middle" fill="#4a4a4a" font-weight="normal" stroke="#4a4a4a" stroke-width="0.18">17</text>
<text x="215.40" y="306.65" font-size="6.3" text-anchor="middle" fill="#4a4a4a" font-weight="normal" stroke="#4a4a4a" stroke-width="0.18">41</text>
<text x="234.60" y="306.65" font-size="6.3" text-anchor="middle" fill="#4a4a4a" font-weight="normal" stroke="#4a4a4a" stroke-width="0.18">31</text>
<text x="253.80" y="306.65" font-size="6.3" text-anchor="middle" fill="#4a4a4a" font-weight="normal" stroke="#4a4a4a" stroke-width="0.18">24</text>
<text x="273.00" y="306.65" font-size="6.3" text-anchor="middle" fill="#4a4a4a" font-weight="normal" stroke="#4a4a4a" stroke-width="0.18">13</text>
<text x="292.20" y="306.65" font-size="6.3" text-anchor="middle" fill="#4a4a4a" font-weight="normal" stroke="#4a4a4a" stroke-width="0.18">6</text>
<text x="358.60" y="172.70" font-size="10.4" text-anchor="start" fill="#111" font-weight="bold" stroke="#111" stroke-width="0.18">F</text>
<text x="396.00" y="183.30" font-size="7.6" text-anchor="start" fill="#2a2a2a" font-weight="normal" stroke="#2a2a2a" stroke-width="0.18" textLength="115.5" lengthAdjust="spacingAndGlyphs">Event−free survival, ELN favorable</text>
<path d="M394.50 189.00V255.70H512.80" fill="none" stroke="#222" stroke-width="1"/>
<path d="M392.20 255.70H394.50" stroke="#222" stroke-width="0.9"/>
<text x="388.80" y="257.85" font-size="6.0" text-anchor="end" fill="#555" font-weight="normal" stroke="#555" stroke-width="0.18">0%</text>
<path d="M392.20 242.86H394.50" stroke="#222" stroke-width="0.9"/>
<text x="388.80" y="245.01" font-size="6.0" text-anchor="end" fill="#555" font-weight="normal" stroke="#555" stroke-width="0.18">20%</text>
<path d="M392.20 230.02H394.50" stroke="#222" stroke-width="0.9"/>
<text x="388.80" y="232.17" font-size="6.0" text-anchor="end" fill="#555" font-weight="normal" stroke="#555" stroke-width="0.18">40%</text>
<path d="M392.20 217.18H394.50" stroke="#222" stroke-width="0.9"/>
<text x="388.80" y="219.33" font-size="6.0" text-anchor="end" fill="#555" font-weight="normal" stroke="#555" stroke-width="0.18">60%</text>
<path d="M392.20 204.34H394.50" stroke="#222" stroke-width="0.9"/>
<text x="388.80" y="206.49" font-size="6.0" text-anchor="end" fill="#555" font-weight="normal" stroke="#555" stroke-width="0.18">80%</text>
<path d="M392.20 191.50H394.50" stroke="#222" stroke-width="0.9"/>
<text x="388.80" y="193.65" font-size="6.0" text-anchor="end" fill="#555" font-weight="normal" stroke="#555" stroke-width="0.18">100%</text>
<path d="M394.50 255.70V258.20" stroke="#222" stroke-width="0.9"/>
<text x="394.50" y="266.90" font-size="6.0" text-anchor="middle" fill="#555" font-weight="normal" stroke="#555" stroke-width="0.18">0</text>
<path d="M413.80 255.70V258.20" stroke="#222" stroke-width="0.9"/>
<text x="413.80" y="266.90" font-size="6.0" text-anchor="middle" fill="#555" font-weight="normal" stroke="#555" stroke-width="0.18">1</text>
<path d="M433.10 255.70V258.20" stroke="#222" stroke-width="0.9"/>
<text x="433.10" y="266.90" font-size="6.0" text-anchor="middle" fill="#555" font-weight="normal" stroke="#555" stroke-width="0.18">2</text>
<path d="M452.40 255.70V258.20" stroke="#222" stroke-width="0.9"/>
<text x="452.40" y="266.90" font-size="6.0" text-anchor="middle" fill="#555" font-weight="normal" stroke="#555" stroke-width="0.18">3</text>
<path d="M471.70 255.70V258.20" stroke="#222" stroke-width="0.9"/>
<text x="471.70" y="266.90" font-size="6.0" text-anchor="middle" fill="#555" font-weight="normal" stroke="#555" stroke-width="0.18">4</text>
<path d="M491.00 255.70V258.20" stroke="#222" stroke-width="0.9"/>
<text x="491.00" y="266.90" font-size="6.0" text-anchor="middle" fill="#555" font-weight="normal" stroke="#555" stroke-width="0.18">5</text>
<path d="M510.30 255.70V258.20" stroke="#222" stroke-width="0.9"/>
<text x="510.30" y="266.90" font-size="6.0" text-anchor="middle" fill="#555" font-weight="normal" stroke="#555" stroke-width="0.18">6</text>
<text x="452.40" y="277.90" font-size="8.1" text-anchor="middle" fill="#333" font-weight="bold" stroke="#333" textLength="12.9" lengthAdjust="spacingAndGlyphs" stroke-width="0.3">Years</text>
<path d="M394.50 191.50 L394.89 191.50 L394.89 193.43 L401.06 193.43 L401.06 197.92 L404.92 197.92 L404.92 200.10 L415.73 200.10 L415.73 202.03 L420.36 202.03 L420.36 204.34 L428.66 204.34 L428.66 207.23 L430.40 207.23 L430.40 209.48 L432.13 209.48 L432.13 211.21 L434.64 211.21 L434.64 213.52 L509.72 213.52" fill="none" stroke="#2f5a85" stroke-width="1.35"/>
<rect x="394.71" y="192.33" width="1.5" height="2.2" fill="#22344a"/>
<rect x="407.26" y="199.00" width="1.5" height="2.2" fill="#22344a"/>
<rect x="413.05" y="199.00" width="1.5" height="2.2" fill="#22344a"/>
<rect x="429.45" y="206.13" width="1.5" height="2.2" fill="#22344a"/>
<rect x="431.38" y="208.38" width="1.5" height="2.2" fill="#22344a"/>
<rect x="433.12" y="210.11" width="1.5" height="2.2" fill="#22344a"/>
<rect x="439.49" y="212.42" width="1.5" height="2.2" fill="#22344a"/>
<rect x="442.77" y="212.42" width="1.5" height="2.2" fill="#22344a"/>
<rect x="448.95" y="212.42" width="1.5" height="2.2" fill="#22344a"/>
<rect x="451.65" y="212.42" width="1.5" height="2.2" fill="#22344a"/>
<rect x="459.95" y="212.42" width="1.5" height="2.2" fill="#22344a"/>
<rect x="486.39" y="212.42" width="1.5" height="2.2" fill="#22344a"/>
<rect x="492.18" y="212.42" width="1.5" height="2.2" fill="#22344a"/>
<rect x="508.97" y="212.42" width="1.5" height="2.2" fill="#22344a"/>
<path d="M394.50 191.50 L401.06 191.50 L401.06 197.41 L478.45 197.41" fill="none" stroke="#b52c46" stroke-width="1.35" stroke-dasharray="3.4 3.6"/>
<rect x="400.31" y="190.40" width="1.5" height="2.2" fill="#701a2d"/>
<rect x="417.88" y="196.31" width="1.5" height="2.2" fill="#701a2d"/>
<rect x="420.58" y="196.31" width="1.5" height="2.2" fill="#701a2d"/>
<rect x="425.98" y="196.31" width="1.5" height="2.2" fill="#701a2d"/>
<rect x="441.61" y="196.31" width="1.5" height="2.2" fill="#701a2d"/>
<rect x="444.32" y="196.31" width="1.5" height="2.2" fill="#701a2d"/>
<rect x="448.37" y="196.31" width="1.5" height="2.2" fill="#701a2d"/>
<rect x="454.93" y="196.31" width="1.5" height="2.2" fill="#701a2d"/>
<rect x="456.86" y="196.31" width="1.5" height="2.2" fill="#701a2d"/>
<rect x="477.70" y="196.31" width="1.5" height="2.2" fill="#701a2d"/>
<text x="450.80" y="235.85" font-size="6.0" text-anchor="start" fill="#2a2a2a" font-weight="normal" stroke="#2a2a2a" stroke-width="0.18" textLength="59.3" lengthAdjust="spacingAndGlyphs">Log rank <tspan font-style="italic">P</tspan>−value = .19</text>
<path d="M450.80 241.70h8.6" stroke="#22344a" stroke-width="1.3"/>
<text x="463.50" y="243.85" font-size="6.0" text-anchor="start" fill="#416c9c" font-weight="normal" stroke="#416c9c" stroke-width="0.18" textLength="24.0" lengthAdjust="spacingAndGlyphs">CLAG−M</text>
<rect x="451.30" y="248.70" width="1.0" height="1.0" fill="#701a2d"/>
<rect x="454.30" y="248.70" width="1.0" height="1.0" fill="#701a2d"/>
<rect x="457.30" y="248.70" width="1.0" height="1.0" fill="#701a2d"/>
<text x="463.50" y="251.35" font-size="6.0" text-anchor="start" fill="#c93550" font-weight="normal" stroke="#c93550" stroke-width="0.18" textLength="30.8" lengthAdjust="spacingAndGlyphs">CLAG−M/S</text>
<text x="358.00" y="287.90" font-size="6.1" text-anchor="start" fill="#555" font-weight="normal" stroke="#555" stroke-width="0.18" textLength="20.7" lengthAdjust="spacingAndGlyphs">N at risk</text>
<text x="388.60" y="297.45" font-size="6.4" text-anchor="end" fill="#4a4a4a" font-weight="normal" stroke="#4a4a4a" stroke-width="0.18" textLength="24.4" lengthAdjust="spacingAndGlyphs">CLAG−M</text>
<text x="388.60" y="306.65" font-size="6.4" text-anchor="end" fill="#4a4a4a" font-weight="normal" stroke="#4a4a4a" stroke-width="0.18" textLength="30.4" lengthAdjust="spacingAndGlyphs">CLAG−M/S</text>
<text x="394.50" y="297.45" font-size="6.3" text-anchor="middle" fill="#4a4a4a" font-weight="normal" stroke="#4a4a4a" stroke-width="0.18">30</text>
<text x="413.80" y="297.45" font-size="6.3" text-anchor="middle" fill="#4a4a4a" font-weight="normal" stroke="#4a4a4a" stroke-width="0.18">25</text>
<text x="433.10" y="297.45" font-size="6.3" text-anchor="middle" fill="#4a4a4a" font-weight="normal" stroke="#4a4a4a" stroke-width="0.18">20</text>
<text x="452.40" y="297.45" font-size="6.3" text-anchor="middle" fill="#4a4a4a" font-weight="normal" stroke="#4a4a4a" stroke-width="0.18">14</text>
<text x="471.70" y="297.45" font-size="6.3" text-anchor="middle" fill="#4a4a4a" font-weight="normal" stroke="#4a4a4a" stroke-width="0.18">11</text>
<text x="491.00" y="297.45" font-size="6.3" text-anchor="middle" fill="#4a4a4a" font-weight="normal" stroke="#4a4a4a" stroke-width="0.18">10</text>
<text x="510.30" y="297.45" font-size="6.3" text-anchor="middle" fill="#4a4a4a" font-weight="normal" stroke="#4a4a4a" stroke-width="0.18">9</text>
<text x="394.50" y="306.65" font-size="6.3" text-anchor="middle" fill="#4a4a4a" font-weight="normal" stroke="#4a4a4a" stroke-width="0.18">11</text>
<text x="413.80" y="306.65" font-size="6.3" text-anchor="middle" fill="#4a4a4a" font-weight="normal" stroke="#4a4a4a" stroke-width="0.18">10</text>
<text x="433.10" y="306.65" font-size="6.3" text-anchor="middle" fill="#4a4a4a" font-weight="normal" stroke="#4a4a4a" stroke-width="0.18">7</text>
<text x="452.40" y="306.65" font-size="6.3" text-anchor="middle" fill="#4a4a4a" font-weight="normal" stroke="#4a4a4a" stroke-width="0.18">3</text>
<text x="471.70" y="306.65" font-size="6.3" text-anchor="middle" fill="#4a4a4a" font-weight="normal" stroke="#4a4a4a" stroke-width="0.18">1</text>
<text x="95.40" y="333.20" font-size="10.4" text-anchor="start" fill="#111" font-weight="bold" stroke="#111" stroke-width="0.18">G</text>
<text x="121.50" y="339.90" font-size="7.6" text-anchor="start" fill="#2a2a2a" font-weight="normal" stroke="#2a2a2a" stroke-width="0.18" textLength="126.8" lengthAdjust="spacingAndGlyphs">Event−free survival, ELN intermediate</text>
<path d="M131.50 345.70V412.20H249.20" fill="none" stroke="#222" stroke-width="1"/>
<path d="M129.20 412.20H131.50" stroke="#222" stroke-width="0.9"/>
<text x="125.80" y="414.35" font-size="6.0" text-anchor="end" fill="#555" font-weight="normal" stroke="#555" stroke-width="0.18">0%</text>
<path d="M129.20 399.40H131.50" stroke="#222" stroke-width="0.9"/>
<text x="125.80" y="401.55" font-size="6.0" text-anchor="end" fill="#555" font-weight="normal" stroke="#555" stroke-width="0.18">20%</text>
<path d="M129.20 386.60H131.50" stroke="#222" stroke-width="0.9"/>
<text x="125.80" y="388.75" font-size="6.0" text-anchor="end" fill="#555" font-weight="normal" stroke="#555" stroke-width="0.18">40%</text>
<path d="M129.20 373.80H131.50" stroke="#222" stroke-width="0.9"/>
<text x="125.80" y="375.95" font-size="6.0" text-anchor="end" fill="#555" font-weight="normal" stroke="#555" stroke-width="0.18">60%</text>
<path d="M129.20 361.00H131.50" stroke="#222" stroke-width="0.9"/>
<text x="125.80" y="363.15" font-size="6.0" text-anchor="end" fill="#555" font-weight="normal" stroke="#555" stroke-width="0.18">80%</text>
<path d="M129.20 348.20H131.50" stroke="#222" stroke-width="0.9"/>
<text x="125.80" y="350.35" font-size="6.0" text-anchor="end" fill="#555" font-weight="normal" stroke="#555" stroke-width="0.18">100%</text>
<path d="M131.50 412.20V414.70" stroke="#222" stroke-width="0.9"/>
<text x="131.50" y="423.40" font-size="6.0" text-anchor="middle" fill="#555" font-weight="normal" stroke="#555" stroke-width="0.18">0</text>
<path d="M150.70 412.20V414.70" stroke="#222" stroke-width="0.9"/>
<text x="150.70" y="423.40" font-size="6.0" text-anchor="middle" fill="#555" font-weight="normal" stroke="#555" stroke-width="0.18">1</text>
<path d="M169.90 412.20V414.70" stroke="#222" stroke-width="0.9"/>
<text x="169.90" y="423.40" font-size="6.0" text-anchor="middle" fill="#555" font-weight="normal" stroke="#555" stroke-width="0.18">2</text>
<path d="M189.10 412.20V414.70" stroke="#222" stroke-width="0.9"/>
<text x="189.10" y="423.40" font-size="6.0" text-anchor="middle" fill="#555" font-weight="normal" stroke="#555" stroke-width="0.18">3</text>
<path d="M208.30 412.20V414.70" stroke="#222" stroke-width="0.9"/>
<text x="208.30" y="423.40" font-size="6.0" text-anchor="middle" fill="#555" font-weight="normal" stroke="#555" stroke-width="0.18">4</text>
<path d="M227.50 412.20V414.70" stroke="#222" stroke-width="0.9"/>
<text x="227.50" y="423.40" font-size="6.0" text-anchor="middle" fill="#555" font-weight="normal" stroke="#555" stroke-width="0.18">5</text>
<path d="M246.70 412.20V414.70" stroke="#222" stroke-width="0.9"/>
<text x="246.70" y="423.40" font-size="6.0" text-anchor="middle" fill="#555" font-weight="normal" stroke="#555" stroke-width="0.18">6</text>
<text x="189.10" y="434.40" font-size="8.1" text-anchor="middle" fill="#333" font-weight="bold" stroke="#333" textLength="12.9" lengthAdjust="spacingAndGlyphs" stroke-width="0.3">Years</text>
<path d="M131.50 348.20 L132.46 348.20 L132.46 352.68 L133.80 352.68 L133.80 357.42 L136.49 357.42 L136.49 368.42 L140.52 368.42 L140.52 379.69 L143.40 379.69 L143.40 385.32 L166.44 385.32 L166.44 390.76 L246.70 390.76" fill="none" stroke="#2f5a85" stroke-width="1.35"/>
<rect x="132.29" y="351.58" width="1.5" height="2.2" fill="#22344a"/>
<rect x="135.74" y="356.32" width="1.5" height="2.2" fill="#22344a"/>
<rect x="139.77" y="367.32" width="1.5" height="2.2" fill="#22344a"/>
<rect x="201.79" y="389.66" width="1.5" height="2.2" fill="#22344a"/>
<rect x="212.54" y="389.66" width="1.5" height="2.2" fill="#22344a"/>
<rect x="224.83" y="389.66" width="1.5" height="2.2" fill="#22344a"/>
<rect x="245.95" y="389.66" width="1.5" height="2.2" fill="#22344a"/>
<path d="M131.50 348.20 L139.37 348.20 L139.37 352.68 L141.68 352.68 L141.68 356.52 L150.32 356.52 L150.32 360.68 L151.47 360.68 L151.47 364.52 L219.82 364.52" fill="none" stroke="#b52c46" stroke-width="1.35" stroke-dasharray="3.4 3.6"/>
<rect x="138.62" y="347.10" width="1.5" height="2.2" fill="#701a2d"/>
<rect x="140.93" y="351.58" width="1.5" height="2.2" fill="#701a2d"/>
<rect x="149.57" y="355.42" width="1.5" height="2.2" fill="#701a2d"/>
<rect x="151.29" y="363.42" width="1.5" height="2.2" fill="#701a2d"/>
<rect x="154.75" y="363.42" width="1.5" height="2.2" fill="#701a2d"/>
<rect x="158.21" y="363.42" width="1.5" height="2.2" fill="#701a2d"/>
<rect x="168.57" y="363.42" width="1.5" height="2.2" fill="#701a2d"/>
<rect x="170.30" y="363.42" width="1.5" height="2.2" fill="#701a2d"/>
<rect x="171.45" y="363.42" width="1.5" height="2.2" fill="#701a2d"/>
<rect x="175.49" y="363.42" width="1.5" height="2.2" fill="#701a2d"/>
<rect x="198.33" y="363.42" width="1.5" height="2.2" fill="#701a2d"/>
<rect x="201.21" y="363.42" width="1.5" height="2.2" fill="#701a2d"/>
<rect x="205.82" y="363.42" width="1.5" height="2.2" fill="#701a2d"/>
<rect x="212.73" y="363.42" width="1.5" height="2.2" fill="#701a2d"/>
<rect x="215.61" y="363.42" width="1.5" height="2.2" fill="#701a2d"/>
<rect x="219.07" y="363.42" width="1.5" height="2.2" fill="#701a2d"/>
<text x="188.70" y="397.55" font-size="6.0" text-anchor="start" fill="#2a2a2a" font-weight="normal" stroke="#2a2a2a" stroke-width="0.18" textLength="62.6" lengthAdjust="spacingAndGlyphs">Log rank <tspan font-style="italic">P</tspan>−value = .016</text>
<path d="M189.90 401.80h8.6" stroke="#22344a" stroke-width="1.3"/>
<text x="202.00" y="403.95" font-size="6.0" text-anchor="start" fill="#416c9c" font-weight="normal" stroke="#416c9c" stroke-width="0.18" textLength="24.0" lengthAdjust="spacingAndGlyphs">CLAG−M</text>
<rect x="190.40" y="407.90" width="1.0" height="1.0" fill="#701a2d"/>
<rect x="193.40" y="407.90" width="1.0" height="1.0" fill="#701a2d"/>
<rect x="196.40" y="407.90" width="1.0" height="1.0" fill="#701a2d"/>
<text x="202.00" y="410.55" font-size="6.0" text-anchor="start" fill="#c93550" font-weight="normal" stroke="#c93550" stroke-width="0.18" textLength="30.8" lengthAdjust="spacingAndGlyphs">CLAG−M/S</text>
<text x="94.80" y="444.40" font-size="6.1" text-anchor="start" fill="#555" font-weight="normal" stroke="#555" stroke-width="0.18" textLength="20.7" lengthAdjust="spacingAndGlyphs">N at risk</text>
<text x="124.60" y="453.75" font-size="6.4" text-anchor="end" fill="#4a4a4a" font-weight="normal" stroke="#4a4a4a" stroke-width="0.18" textLength="24.4" lengthAdjust="spacingAndGlyphs">CLAG−M</text>
<text x="124.60" y="462.95" font-size="6.4" text-anchor="end" fill="#4a4a4a" font-weight="normal" stroke="#4a4a4a" stroke-width="0.18" textLength="30.4" lengthAdjust="spacingAndGlyphs">CLAG−M/S</text>
<text x="131.50" y="453.75" font-size="6.3" text-anchor="middle" fill="#4a4a4a" font-weight="normal" stroke="#4a4a4a" stroke-width="0.18">14</text>
<text x="150.70" y="453.75" font-size="6.3" text-anchor="middle" fill="#4a4a4a" font-weight="normal" stroke="#4a4a4a" stroke-width="0.18">5</text>
<text x="169.90" y="453.75" font-size="6.3" text-anchor="middle" fill="#4a4a4a" font-weight="normal" stroke="#4a4a4a" stroke-width="0.18">4</text>
<text x="189.10" y="453.75" font-size="6.3" text-anchor="middle" fill="#4a4a4a" font-weight="normal" stroke="#4a4a4a" stroke-width="0.18">4</text>
<text x="208.30" y="453.75" font-size="6.3" text-anchor="middle" fill="#4a4a4a" font-weight="normal" stroke="#4a4a4a" stroke-width="0.18">3</text>
<text x="227.50" y="453.75" font-size="6.3" text-anchor="middle" fill="#4a4a4a" font-weight="normal" stroke="#4a4a4a" stroke-width="0.18">1</text>
<text x="246.70" y="453.75" font-size="6.3" text-anchor="middle" fill="#4a4a4a" font-weight="normal" stroke="#4a4a4a" stroke-width="0.18">1</text>
<text x="131.50" y="462.95" font-size="6.3" text-anchor="middle" fill="#4a4a4a" font-weight="normal" stroke="#4a4a4a" stroke-width="0.18">16</text>
<text x="150.70" y="462.95" font-size="6.3" text-anchor="middle" fill="#4a4a4a" font-weight="normal" stroke="#4a4a4a" stroke-width="0.18">13</text>
<text x="169.90" y="462.95" font-size="6.3" text-anchor="middle" fill="#4a4a4a" font-weight="normal" stroke="#4a4a4a" stroke-width="0.18">11</text>
<text x="189.10" y="462.95" font-size="6.3" text-anchor="middle" fill="#4a4a4a" font-weight="normal" stroke="#4a4a4a" stroke-width="0.18">6</text>
<text x="208.30" y="462.95" font-size="6.3" text-anchor="middle" fill="#4a4a4a" font-weight="normal" stroke="#4a4a4a" stroke-width="0.18">4</text>
<text x="268.30" y="333.00" font-size="10.4" text-anchor="start" fill="#111" font-weight="bold" stroke="#111" stroke-width="0.18">H</text>
<text x="307.70" y="339.90" font-size="7.6" text-anchor="start" fill="#2a2a2a" font-weight="normal" stroke="#2a2a2a" stroke-width="0.18" textLength="110.8" lengthAdjust="spacingAndGlyphs">Event−free survival, ELN adverse</text>
<path d="M305.20 345.70V412.20H422.90" fill="none" stroke="#222" stroke-width="1"/>
<path d="M302.90 412.20H305.20" stroke="#222" stroke-width="0.9"/>
<text x="299.50" y="414.35" font-size="6.0" text-anchor="end" fill="#555" font-weight="normal" stroke="#555" stroke-width="0.18">0%</text>
<path d="M302.90 399.40H305.20" stroke="#222" stroke-width="0.9"/>
<text x="299.50" y="401.55" font-size="6.0" text-anchor="end" fill="#555" font-weight="normal" stroke="#555" stroke-width="0.18">20%</text>
<path d="M302.90 386.60H305.20" stroke="#222" stroke-width="0.9"/>
<text x="299.50" y="388.75" font-size="6.0" text-anchor="end" fill="#555" font-weight="normal" stroke="#555" stroke-width="0.18">40%</text>
<path d="M302.90 373.80H305.20" stroke="#222" stroke-width="0.9"/>
<text x="299.50" y="375.95" font-size="6.0" text-anchor="end" fill="#555" font-weight="normal" stroke="#555" stroke-width="0.18">60%</text>
<path d="M302.90 361.00H305.20" stroke="#222" stroke-width="0.9"/>
<text x="299.50" y="363.15" font-size="6.0" text-anchor="end" fill="#555" font-weight="normal" stroke="#555" stroke-width="0.18">80%</text>
<path d="M302.90 348.20H305.20" stroke="#222" stroke-width="0.9"/>
<text x="299.50" y="350.35" font-size="6.0" text-anchor="end" fill="#555" font-weight="normal" stroke="#555" stroke-width="0.18">100%</text>
<path d="M305.20 412.20V414.70" stroke="#222" stroke-width="0.9"/>
<text x="305.20" y="423.40" font-size="6.0" text-anchor="middle" fill="#555" font-weight="normal" stroke="#555" stroke-width="0.18">0</text>
<path d="M324.40 412.20V414.70" stroke="#222" stroke-width="0.9"/>
<text x="324.40" y="423.40" font-size="6.0" text-anchor="middle" fill="#555" font-weight="normal" stroke="#555" stroke-width="0.18">1</text>
<path d="M343.60 412.20V414.70" stroke="#222" stroke-width="0.9"/>
<text x="343.60" y="423.40" font-size="6.0" text-anchor="middle" fill="#555" font-weight="normal" stroke="#555" stroke-width="0.18">2</text>
<path d="M362.80 412.20V414.70" stroke="#222" stroke-width="0.9"/>
<text x="362.80" y="423.40" font-size="6.0" text-anchor="middle" fill="#555" font-weight="normal" stroke="#555" stroke-width="0.18">3</text>
<path d="M382.00 412.20V414.70" stroke="#222" stroke-width="0.9"/>
<text x="382.00" y="423.40" font-size="6.0" text-anchor="middle" fill="#555" font-weight="normal" stroke="#555" stroke-width="0.18">4</text>
<path d="M401.20 412.20V414.70" stroke="#222" stroke-width="0.9"/>
<text x="401.20" y="423.40" font-size="6.0" text-anchor="middle" fill="#555" font-weight="normal" stroke="#555" stroke-width="0.18">5</text>
<path d="M420.40 412.20V414.70" stroke="#222" stroke-width="0.9"/>
<text x="420.40" y="423.40" font-size="6.0" text-anchor="middle" fill="#555" font-weight="normal" stroke="#555" stroke-width="0.18">6</text>
<text x="364.30" y="434.40" font-size="8.1" text-anchor="middle" fill="#333" font-weight="bold" stroke="#333" textLength="12.9" lengthAdjust="spacingAndGlyphs" stroke-width="0.3">Years</text>
<path d="M305.20 348.20 L306.54 352.04 L307.50 355.88 L308.08 359.72 L308.85 363.82 L310.58 366.12 L314.42 366.76 L314.42 371.24 L315.18 377.00 L315.76 379.88 L318.06 383.40 L325.55 383.40 L325.55 389.16 L420.02 389.16" fill="none" stroke="#2f5a85" stroke-width="1.35"/>
<rect x="309.83" y="365.02" width="1.5" height="2.2" fill="#22344a"/>
<rect x="313.67" y="365.66" width="1.5" height="2.2" fill="#22344a"/>
<rect x="314.43" y="375.90" width="1.5" height="2.2" fill="#22344a"/>
<rect x="315.78" y="379.95" width="1.5" height="2.2" fill="#22344a"/>
<rect x="319.62" y="382.30" width="1.5" height="2.2" fill="#22344a"/>
<rect x="398.91" y="388.06" width="1.5" height="2.2" fill="#22344a"/>
<rect x="419.27" y="388.06" width="1.5" height="2.2" fill="#22344a"/>
<path d="M305.20 348.20 L306.54 352.04 L307.50 355.88 L308.08 359.72 L308.85 363.82 L310.58 366.12 L314.42 366.76 L319.22 366.76 L319.22 375.40 L359.54 375.40 L359.54 381.48 L383.73 381.48" fill="none" stroke="#b52c46" stroke-width="1.35" stroke-dasharray="3.4 3.6"/>
<rect x="318.47" y="365.66" width="1.5" height="2.2" fill="#701a2d"/>
<rect x="338.05" y="374.30" width="1.5" height="2.2" fill="#701a2d"/>
<rect x="342.08" y="374.30" width="1.5" height="2.2" fill="#701a2d"/>
<rect x="344.58" y="374.30" width="1.5" height="2.2" fill="#701a2d"/>
<rect x="358.79" y="374.30" width="1.5" height="2.2" fill="#701a2d"/>
<rect x="368.58" y="380.38" width="1.5" height="2.2" fill="#701a2d"/>
<rect x="373.76" y="380.38" width="1.5" height="2.2" fill="#701a2d"/>
<rect x="376.07" y="380.38" width="1.5" height="2.2" fill="#701a2d"/>
<rect x="382.98" y="380.38" width="1.5" height="2.2" fill="#701a2d"/>
<text x="364.70" y="397.55" font-size="6.0" text-anchor="start" fill="#2a2a2a" font-weight="normal" stroke="#2a2a2a" stroke-width="0.18" textLength="60.1" lengthAdjust="spacingAndGlyphs">Log rank <tspan font-style="italic">P</tspan>−value = .45</text>
<path d="M365.90 401.70h8.6" stroke="#22344a" stroke-width="1.3"/>
<text x="378.20" y="403.85" font-size="6.0" text-anchor="start" fill="#416c9c" font-weight="normal" stroke="#416c9c" stroke-width="0.18" textLength="24.0" lengthAdjust="spacingAndGlyphs">CLAG−M</text>
<rect x="366.40" y="408.00" width="1.0" height="1.0" fill="#701a2d"/>
<rect x="369.40" y="408.00" width="1.0" height="1.0" fill="#701a2d"/>
<rect x="372.40" y="408.00" width="1.0" height="1.0" fill="#701a2d"/>
<text x="378.20" y="410.65" font-size="6.0" text-anchor="start" fill="#c93550" font-weight="normal" stroke="#c93550" stroke-width="0.18" textLength="30.8" lengthAdjust="spacingAndGlyphs">CLAG−M/S</text>
<text x="268.40" y="444.40" font-size="6.1" text-anchor="start" fill="#555" font-weight="normal" stroke="#555" stroke-width="0.18" textLength="20.7" lengthAdjust="spacingAndGlyphs">N at risk</text>
<text x="298.60" y="453.75" font-size="6.4" text-anchor="end" fill="#4a4a4a" font-weight="normal" stroke="#4a4a4a" stroke-width="0.18" textLength="24.4" lengthAdjust="spacingAndGlyphs">CLAG−M</text>
<text x="298.60" y="462.95" font-size="6.4" text-anchor="end" fill="#4a4a4a" font-weight="normal" stroke="#4a4a4a" stroke-width="0.18" textLength="30.4" lengthAdjust="spacingAndGlyphs">CLAG−M/S</text>
<text x="305.20" y="453.75" font-size="6.3" text-anchor="middle" fill="#4a4a4a" font-weight="normal" stroke="#4a4a4a" stroke-width="0.18">24</text>
<text x="324.40" y="453.75" font-size="6.3" text-anchor="middle" fill="#4a4a4a" font-weight="normal" stroke="#4a4a4a" stroke-width="0.18">5</text>
<text x="343.60" y="453.75" font-size="6.3" text-anchor="middle" fill="#4a4a4a" font-weight="normal" stroke="#4a4a4a" stroke-width="0.18">4</text>
<text x="362.80" y="453.75" font-size="6.3" text-anchor="middle" fill="#4a4a4a" font-weight="normal" stroke="#4a4a4a" stroke-width="0.18">4</text>
<text x="382.00" y="453.75" font-size="6.3" text-anchor="middle" fill="#4a4a4a" font-weight="normal" stroke="#4a4a4a" stroke-width="0.18">4</text>
<text x="401.20" y="453.75" font-size="6.3" text-anchor="middle" fill="#4a4a4a" font-weight="normal" stroke="#4a4a4a" stroke-width="0.18">3</text>
<text x="420.40" y="453.75" font-size="6.3" text-anchor="middle" fill="#4a4a4a" font-weight="normal" stroke="#4a4a4a" stroke-width="0.18">3</text>
<text x="305.20" y="462.95" font-size="6.3" text-anchor="middle" fill="#4a4a4a" font-weight="normal" stroke="#4a4a4a" stroke-width="0.18">14</text>
<text x="324.40" y="462.95" font-size="6.3" text-anchor="middle" fill="#4a4a4a" font-weight="normal" stroke="#4a4a4a" stroke-width="0.18">8</text>
<text x="343.60" y="462.95" font-size="6.3" text-anchor="middle" fill="#4a4a4a" font-weight="normal" stroke="#4a4a4a" stroke-width="0.18">6</text>
<text x="362.80" y="462.95" font-size="6.3" text-anchor="middle" fill="#4a4a4a" font-weight="normal" stroke="#4a4a4a" stroke-width="0.18">4</text>
<text x="382.00" y="462.95" font-size="6.3" text-anchor="middle" fill="#4a4a4a" font-weight="normal" stroke="#4a4a4a" stroke-width="0.18">1</text>
<rect x="0.5" y="0.5" width="519" height="470" fill="none" stroke="#5c5c5c" stroke-width="1"/>
</svg></body></html>
